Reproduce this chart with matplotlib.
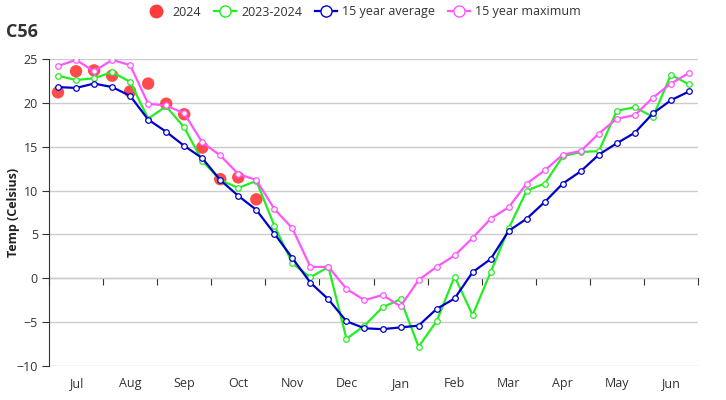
import numpy as np
import matplotlib.pyplot as plt
from matplotlib.lines import Line2D

plt.rcParams['font.family'] = ['Open Sans', 'DejaVu Sans']

# dekads from July to June (3 per month)
months = ['Jul', 'Aug', 'Sep', 'Oct', 'Nov', 'Dec', 'Jan', 'Feb', 'Mar', 'Apr', 'May', 'Jun']

temp_2024 = [21.2, 23.6, 23.7, 23.1, 21.3, 22.2, 19.9, 18.7, 14.9, 11.3, 11.5, 9.0]

temp_2023_2024 = [23.1, 22.6, 22.8, 23.5, 22.4, 18.2, 19.6, 17.2, 13.4, 11.2, 10.3, 11.1,
                  6.0, 1.7, 0.1, 1.3, -6.9, -5.4, -3.3, -2.4, -7.8, -4.9, 0.2, -4.2,
                  0.7, 5.7, 10.0, 10.8, 13.9, 14.4, 14.5, 19.1, 19.5, 18.4, 23.2, 22.1]

avg_15y = [21.8, 21.7, 22.2, 21.8, 20.8, 18.1, 16.7, 15.1, 13.7, 11.2, 9.4, 7.8,
           5.1, 2.3, -0.5, -2.4, -4.9, -5.7, -5.8, -5.6, -5.4, -3.5, -2.3, 0.7,
           2.2, 5.4, 6.8, 8.7, 10.8, 12.2, 14.1, 15.4, 16.6, 18.8, 20.3, 21.3]

max_15y = [24.2, 24.9, 23.6, 24.9, 24.3, 19.9, 19.7, 18.8, 15.5, 14.0, 11.9, 11.2,
           7.9, 5.7, 1.3, 1.3, -1.2, -2.5, -1.9, -3.2, -0.2, 1.3, 2.6, 4.6,
           6.8, 8.1, 10.8, 12.3, 14.1, 14.5, 16.5, 18.2, 18.6, 20.6, 22.2, 23.4]

c_red = '#ff3b3b'
c_green = '#22ee22'
c_blue = '#0000c8'
c_mag = '#ff55ff'

fig = plt.figure(figsize=(7.26, 4.0), dpi=100)
ax = fig.add_axes([49 / 726, 34 / 400, 649 / 726, 307 / 400])

x_all = np.arange(len(avg_15y))
x_24 = np.arange(len(temp_2024))

ax.scatter(x_24, temp_2024, s=80, color=c_red, alpha=0.92, edgecolors='none', zorder=3)

def line(vals, color):
    ax.plot(x_all, vals, color=color, lw=1.6, marker='o', markersize=4,
            markerfacecolor='white', markeredgecolor=color, markeredgewidth=0.9, zorder=4)

line(temp_2023_2024, c_green)
line(avg_15y, c_blue)
line(max_15y, c_mag)

ymin, ymax = -10, 25
ax.set_ylim(ymin, ymax)
ax.set_xlim(-0.5, len(avg_15y) - 0.5)
ax.set_yticks(np.arange(-10, 26, 5))
ax.yaxis.grid(True, color='#cccccc', lw=1)
ax.set_axisbelow(True)

for s in ['top', 'right', 'bottom']:
    ax.spines[s].set_visible(False)
ax.spines['left'].set_color('#333333')
ax.tick_params(axis='y', length=5, color='#333333', labelsize=9, labelcolor='#333333', pad=3)

ax.set_xticks(np.arange(1, len(avg_15y), 3))
ax.set_xticklabels(months)
ax.tick_params(axis='x', length=0, labelsize=9, labelcolor='#333333', pad=8)

# zero axis line with month boundary ticks
sec = ax.secondary_xaxis((0 - ymin) / (ymax - ymin))
sec.set_xticks(np.arange(-0.5, len(avg_15y), 3))
sec.set_xticklabels([])
sec.spines['bottom'].set_color('#333333')
sec.tick_params(axis='x', length=5, color='#333333', direction='out')

fig.text(14 / 726, 1 - 212 / 400, 'Temp (Celsius)', fontsize=9, fontweight='bold',
         color='#222222', rotation=90, ha='center', va='center')

fig.text(6 / 726, 1 - 32 / 400, 'C56', fontsize=13, fontweight='bold', color='#333333', va='center')

handles = [
    Line2D([], [], ls='none', marker='o', markersize=10, color=c_red, markeredgecolor='none'),
    Line2D([], [], color=c_green, lw=1.6, marker='o', markersize=8, markerfacecolor='white', markeredgewidth=1),
    Line2D([], [], color=c_blue, lw=1.6, marker='o', markersize=8, markerfacecolor='white', markeredgewidth=1),
    Line2D([], [], color=c_mag, lw=1.6, marker='o', markersize=8, markerfacecolor='white', markeredgewidth=1),
]
fig.legend(handles, ['2024', '2023-2024', '15 year average', '15 year maximum'],
           loc='center', bbox_to_anchor=(0.5, 1 - 12 / 400), ncol=4, frameon=False,
           fontsize=9, handlelength=1.8, handletextpad=0.4, columnspacing=1.0,
           labelcolor='#333333')

fig.savefig('out.png', dpi=100)
